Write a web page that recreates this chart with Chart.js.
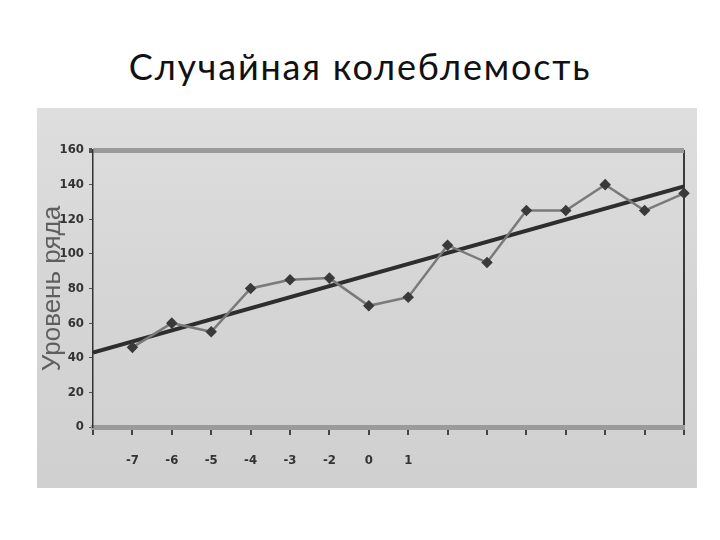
<!DOCTYPE html>
<html>
<head>
<meta charset="utf-8">
<script src="https://cdn.jsdelivr.net/npm/chart.js@4"></script>
<style>
  body { margin: 0; background: #fff; width: 720px; height: 540px; position: relative; overflow: hidden; }
  #title { position: absolute; left: 0; width: 720px; top: 44px; text-align: center;
           font-family: Lato, "Open Sans", sans-serif; font-size: 36px; letter-spacing: 1.8px; color: #111; }
  #scan { position: absolute; left: 37px; top: 108px; width: 660px; height: 380px;
          background: linear-gradient(180deg, #dedede 0%, #d5d5d5 50%, #d0d0d0 100%); }
  #scan canvas { position: absolute; left: 0; top: 0; }
</style>
</head>
<body>
<div id="title">Случайная колеблемость</div>
<div id="scan"><canvas id="chart" width="660" height="380"></canvas></div>
<script>
// tick labels along the x axis (positions 0..15)
const tickLabels = ['', '-7', '-6', '-5', '-4', '-3', '-2', '0', '1', '', '', '', '', '', '', ''];
// observed series levels at positions 1..15
const positions = [1, 2, 3, 4, 5, 6, 7, 8, 9, 10, 11, 12, 13, 14, 15];
const levels = [46, 60, 55, 80, 85, 86, 70, 75, 105, 95, 125, 125, 140, 125, 135];
// trend line end points
const trendX = [0, 15];
const trendY = [43, 139];

const tickFont = { family: '"DejaVu Sans Condensed", "Liberation Sans Narrow", sans-serif', size: 13, weight: 'bold' };

const ctx = document.getElementById('chart').getContext('2d');
new Chart(ctx, {
  type: 'line',
  data: {
    datasets: [{
      label: 'Уровень',
      data: positions.map((x, i) => ({ x: x, y: levels[i] })),
      borderColor: '#7a7a7a',
      borderWidth: 2.5,
      pointStyle: 'rectRot',
      pointRadius: 4,
      pointBackgroundColor: '#3a3a3a',
      pointBorderColor: '#3a3a3a',
      tension: 0,
      clip: false
    }, {
      label: 'Тренд',
      data: trendX.map((x, i) => ({ x: x, y: trendY[i] })),
      borderColor: '#2e2e2e',
      borderWidth: 4,
      pointRadius: 0,
      tension: 0
    }]
  },
  options: {
    responsive: false,
    animation: false,
    layout: { padding: { top: 42, right: 13, bottom: 0, left: 0 } },
    plugins: { legend: { display: false }, tooltip: { enabled: false } },
    scales: {
      x: {
        type: 'linear',
        min: 0, max: 15,
        afterFit: (s) => { s.height = 61; s.paddingRight = 0; s.paddingLeft = 0; },
        ticks: {
          stepSize: 1,
          autoSkip: false,
          maxRotation: 0,
          padding: 18,
          color: '#333',
          font: tickFont,
          callback: (v) => tickLabels[v] ?? ''
        },
        grid: {
          color: (c) => c.tick && c.tick.value === 15 ? '#3c3c3c' : 'rgba(0,0,0,0)',
          lineWidth: 2,
          tickColor: '#444',
          tickLength: 8
        },
        border: { color: '#9a9a9a', width: 5 }
      },
      y: {
        min: 0, max: 160,
        afterFit: (s) => { s.width = 56; },
        ticks: {
          stepSize: 20,
          padding: 5,
          color: '#333',
          font: tickFont
        },
        grid: {
          color: (c) => c.tick && c.tick.value === 160 ? '#9a9a9a' : 'rgba(0,0,0,0)',
          lineWidth: (c) => c.tick && c.tick.value === 160 ? 5 : 1,
          tickColor: '#555',
          tickLength: 4
        },
        border: { color: '#333', width: 1.5 },
        title: {
          display: true,
          text: 'Уровень ряда',
          color: '#5e5e5e',
          padding: 0,
          font: { family: '"Liberation Sans", Arial, sans-serif', size: 26 }
        }
      }
    }
  }
});
</script>
</body>
</html>
